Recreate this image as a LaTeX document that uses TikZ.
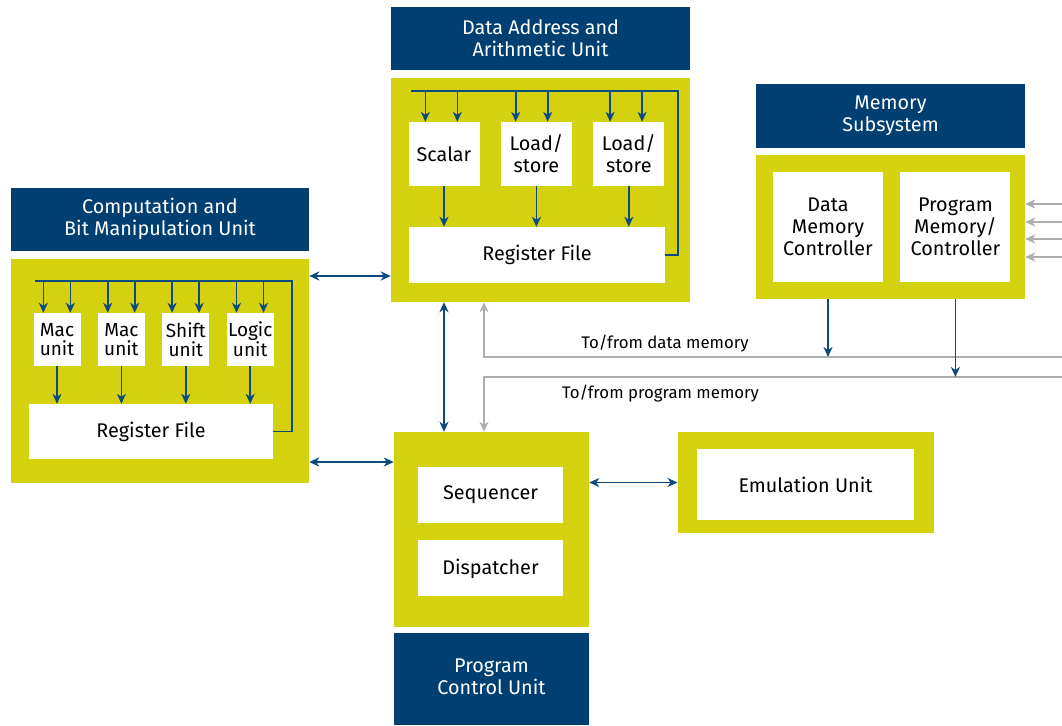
\documentclass[tikz,border=0pt]{standalone}
\usepackage{fontspec}
\setmainfont{Fira Sans}
\usetikzlibrary{arrows.meta,positioning}

\definecolor{headblue}{RGB}{0,63,114}
\definecolor{frameyellow}{RGB}{212,210,14}
\definecolor{linkblue}{RGB}{12,74,128}
\definecolor{linkgray}{RGB}{172,174,177}

\begin{document}
\begin{tikzpicture}[x=1pt, y=-1pt, >={Stealth[length=10pt,width=9pt,inset=3pt]},
        header/.style={rectangle, fill=headblue, text=white, align=center, inner sep=0pt, font=\fontsize{19.8}{22}\selectfont},
        frame/.style={rectangle, fill=frameyellow, inner sep=0pt},
        block/.style={rectangle, fill=white, align=center, inner sep=0pt, font=\fontsize{19.8}{22}\selectfont},
        unit/.style={block, minimum width=47pt, minimum height=53pt, font=\fontsize{19}{18.5}\selectfont},
        link/.style={linkblue, line width=1.6pt},
        memlink/.style={linkgray, line width=1.6pt},
        note/.style={inner sep=0pt, font=\fontsize{16.8}{19}\selectfont}]
        \useasboundingbox (0,0) rectangle (1062,725);
        % Unidad de computación y manipulación de bits
        \node[frame, minimum width=298pt, minimum height=224pt] (cbmu) at (160,371) {};
        \node[header, minimum width=298pt, minimum height=63pt, above=8pt of cbmu] (cbmuTitle) {Computation and\\Bit Manipulation Unit};
        \node[unit] (mac1) at (57,339.5) {Mac\\unit};
        \node[unit, right=17pt of mac1] (mac2) {Mac\\unit};
        \node[unit, right=17pt of mac2] (shift) {Shift\\unit};
        \node[unit, right=17pt of shift] (logic) {Logic\\unit};
        \node[block, minimum width=244pt, minimum height=55pt] (crf) at (151,431.5) {Register File};
        % Bus de retorno del banco de registros
        \coordinate (cbus) at (35,281);
        \draw[link] (crf.east) -- ++(19,0) |- (cbus);
        \draw[link,->] ([xshift=10pt]mac1.north west |- cbus) -- ([xshift=10pt]mac1.north west);
        \draw[link,->] ([xshift=37pt]mac1.north west |- cbus) -- ([xshift=37pt]mac1.north west);
        \draw[link,->] ([xshift=10pt]mac2.north west |- cbus) -- ([xshift=10pt]mac2.north west);
        \draw[link,->] ([xshift=37pt]mac2.north west |- cbus) -- ([xshift=37pt]mac2.north west);
        \draw[link,->] ([xshift=10pt]shift.north west |- cbus) -- ([xshift=10pt]shift.north west);
        \draw[link,->] ([xshift=37pt]shift.north west |- cbus) -- ([xshift=37pt]shift.north west);
        \draw[link,->] ([xshift=10pt]logic.north west |- cbus) -- ([xshift=10pt]logic.north west);
        \draw[link,->] ([xshift=37pt]logic.north west |- cbus) -- ([xshift=37pt]logic.north west);
        % Salidas de las unidades hacia el banco
        \draw[link,->] (mac1.south) -- (mac1.south |- crf.north);
        \draw[link,->] (mac2.south) -- (mac2.south |- crf.north);
        \draw[link,->] (shift.south) -- (shift.south |- crf.north);
        \draw[link,->] (logic.south) -- (logic.south |- crf.north);

        % Unidad de direcciones y aritmética de datos
        \node[frame, minimum width=299pt, minimum height=224pt] (daau) at (540.5,190) {};
        \node[header, minimum width=299pt, minimum height=63pt, above=8pt of daau] (daauTitle) {Data Address and\\Arithmetic Unit};
        \node[block, minimum width=71pt, minimum height=64pt] (scalar) at (444,154) {Scalar};
        \node[block, minimum width=71pt, minimum height=64pt, right=21pt of scalar] (ls1) {Load/\\store};
        \node[block, minimum width=71pt, minimum height=64pt, right=21pt of ls1] (ls2) {Load/\\store};
        \node[block, minimum width=256pt, minimum height=56pt] (drf) at (537,255) {Register File};
        % Bus de retorno del banco de registros
        \coordinate (dbus) at (411,91);
        \draw[link] (drf.east) -- ++(13,0) |- (dbus);
        \draw[link,->] ([xshift=17pt]scalar.north west |- dbus) -- ([xshift=17pt]scalar.north west);
        \draw[link,->] ([xshift=49pt]scalar.north west |- dbus) -- ([xshift=49pt]scalar.north west);
        \draw[link,->] ([xshift=15pt]ls1.north west |- dbus) -- ([xshift=15pt]ls1.north west);
        \draw[link,->] ([xshift=47pt]ls1.north west |- dbus) -- ([xshift=47pt]ls1.north west);
        \draw[link,->] ([xshift=17pt]ls2.north west |- dbus) -- ([xshift=17pt]ls2.north west);
        \draw[link,->] ([xshift=49pt]ls2.north west |- dbus) -- ([xshift=49pt]ls2.north west);
        \draw[link,->] (scalar.south) -- (scalar.south |- drf.north);
        \draw[link,->] (ls1.south) -- (ls1.south |- drf.north);
        \draw[link,->] (ls2.south) -- (ls2.south |- drf.north);

        % Subsistema de memoria
        \node[frame, minimum width=269pt, minimum height=144pt] (mem) at (890.5,227) {};
        \node[header, minimum width=269pt, minimum height=64pt, above=7pt of mem] (memTitle) {Memory\\Subsystem};
        \node[block, minimum width=110pt, minimum height=110pt] (dmc) at (828,227) {Data\\Memory\\Controller};
        \node[block, minimum width=110pt, minimum height=110pt, right=17pt of dmc] (pmc) {Program\\Memory/\\Controller};
        % Entradas externas (grises)
        \draw[memlink,<-] ([yshift=23pt]mem.east) -- +(37,0);
        \draw[memlink,<-] ([yshift=5pt]mem.east) -- +(37,0);
        \draw[memlink,<-] ([yshift=-12pt]mem.east) -- +(37,0);
        \draw[memlink,<-] ([yshift=-30pt]mem.east) -- +(37,0);

        % Unidad de control de programa
        \node[frame, minimum width=195pt, minimum height=195pt] (pcu) at (491.5,529.5) {};
        \node[block, minimum width=145pt, minimum height=56pt] (seq) at (490.5,495) {Sequencer};
        \node[block, minimum width=145pt, minimum height=56pt, below=17pt of seq] (disp) {Dispatcher};
        \node[header, minimum width=195pt, minimum height=92pt, below=6pt of pcu] (pcuTitle) {\raisebox{4pt}{\begin{tabular}{@{}c@{}}Program\\Control Unit\end{tabular}}};

        % Unidad de emulación
        \node[frame, minimum width=256pt, minimum height=101pt] (emu) at (805.75,482.5) {};
        \node[block, minimum width=217pt, minimum height=71pt] (emuIn) at (805.5,484.5) {Emulation Unit};

        % Líneas hacia/desde memoria
        \coordinate (rightedge) at (1062,0);
        \coordinate (dline) at (484,357);
        \coordinate (pline) at (484,377);
        \draw[memlink,->] (rightedge |- dline) -| (daau.south -| dline);
        \draw[memlink,->] (rightedge |- pline) -| (pcu.north -| pline);
        \node[note, anchor=base] (dataNote) at (665,348) {To/from data memory};
        \node[note, anchor=base] (progNote) at (660.5,398) {To/from program memory};
        \draw[link,->] (mem.south -| dmc) -- (dmc |- dline);
        \draw[link,->] (mem.south -| pmc) -- (pmc |- pline);

        % Conexiones entre unidades
        \coordinate (linkA) at (0,276);
        \coordinate (linkB) at (0,462);
        \draw[link,<->] (cbmu.east |- linkA) -- (daau.west |- linkA);
        \draw[link,<->] (cbmu.east |- linkB) -- (pcu.west |- linkB);
        \draw[link,<->] (daau.south -| scalar) -- (pcu.north -| scalar);
        \draw[link,<->] (pcu.east |- emu) -- (emu.west);
    \end{tikzpicture}
\end{document}
